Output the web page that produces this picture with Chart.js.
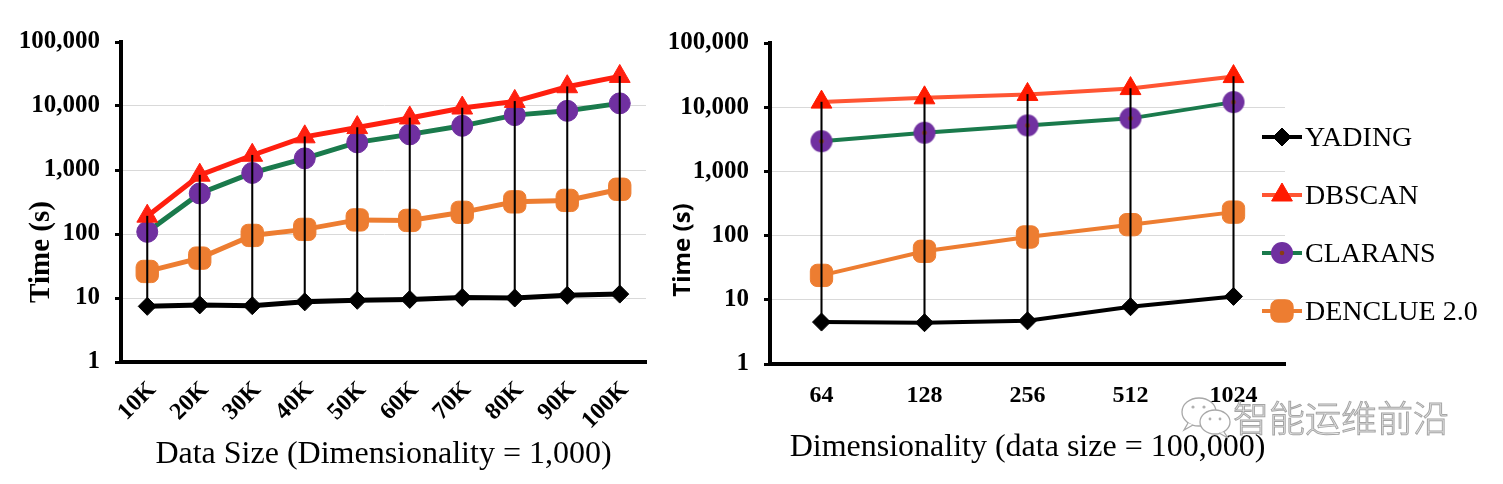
<!DOCTYPE html>
<html lang="en">
<head>
<meta charset="UTF-8">
<title>YADING runtime comparison</title>
<script src="https://cdn.jsdelivr.net/npm/chart.js"></script>
<style>
  body { margin: 0; background: #fff; width: 1503px; height: 484px; overflow: hidden; position: relative; }
  #left { position: absolute; left: 0; top: 0; }
  #right { position: absolute; left: 660px; top: 0; }
  #mark {
    position: absolute; left: 1233px; top: 390px;
    font-family: 'Noto Sans CJK SC', sans-serif; font-size: 36px; font-weight: 300;
    color: #ececec; -webkit-text-stroke: 1px #a5a5a5; white-space: nowrap;
  }
  #wechat { position: absolute; left: 1178px; top: 394px; }
</style>
</head>
<body>
<canvas id="left" width="660" height="484"></canvas>
<canvas id="right" width="843" height="484"></canvas>
<svg id="wechat" width="58" height="46" viewBox="0 0 58 46">
  <g fill="#fff" stroke="#a8a8a8" stroke-width="1.3">
    <ellipse cx="21" cy="18" rx="17" ry="14"/>
    <path d="M10 29 L6 36 L15 31"/>
    <ellipse cx="37" cy="28" rx="15" ry="12"/>
    <path d="M46 38 L50 44 L41 39"/>
  </g>
  <g fill="#b0b0b0">
    <circle cx="15" cy="13" r="1.6"/><circle cx="26" cy="13" r="1.6"/>
    <circle cx="32" cy="25" r="1.4"/><circle cx="42" cy="25" r="1.4"/>
  </g>
</svg>
<div id="mark">智能运维前沿</div>

<script>
  // 공통 데이터
  const seriesNames = ['YADING', 'DBSCAN', 'CLARANS', 'DENCLUE 2.0'];
  const yTickValues = [1, 10, 100, 1000, 10000, 100000];

  // 왼쪽: Data Size (Dimensionality = 1,000)
  const sizeLabels = ['10K', '20K', '30K', '40K', '50K', '60K', '70K', '80K', '90K', '100K'];
  const sizeYading = [7.4, 7.8, 7.6, 8.7, 9.2, 9.5, 10.2, 10, 11, 11.5];
  const sizeDbscan = [190, 830, 1700, 3300, 4600, 6500, 9300, 11800, 20000, 29000];
  const sizeClarans = [108, 430, 900, 1520, 2700, 3600, 4900, 7200, 8400, 11000];
  const sizeDenclue = [26, 42, 95, 118, 166, 163, 218, 318, 335, 500];

  // 오른쪽: Dimensionality (data size = 100,000)
  const dimLabels = ['64', '128', '256', '512', '1024'];
  const dimYading = [4.5, 4.4, 4.7, 7.8, 11.3];
  const dimDbscan = [12000, 14000, 15800, 19500, 30000];
  const dimClarans = [2950, 4000, 5200, 6700, 12000];
  const dimDenclue = [24, 57, 95, 148, 232];

  const serif = "'Liberation Serif', 'Times New Roman', serif";

  // 가운데 갈색 점이 있는 보라색 원 마커 (오른쪽 CLARANS)
  function dotCircle(r, fill, dot) {
    const c = document.createElement('canvas');
    c.width = c.height = r * 2 + 2;
    const g = c.getContext('2d');
    g.fillStyle = fill;
    g.beginPath(); g.arc(r + 1, r + 1, r, 0, Math.PI * 2); g.fill();
    g.fillStyle = dot;
    g.beginPath(); g.arc(r + 1, r + 1, 2.3, 0, Math.PI * 2); g.fill();
    return c;
  }

  // y축 제목 (아래쪽으로 치우쳐 있음)
  const yTitlePlugin = {
    id: 'yTitle',
    afterDraw(chart, args, o) {
      const { ctx, chartArea } = chart;
      ctx.save();
      ctx.translate(chartArea.left + o.dx, chartArea.bottom + o.dy);
      ctx.rotate(-Math.PI / 2);
      ctx.font = o.font;
      ctx.fillStyle = '#000';
      ctx.textAlign = 'center';
      ctx.textBaseline = 'middle';
      ctx.fillText(o.text, 0, 0);
      ctx.restore();
    }
  };

  // 오른쪽 범례 (선 + 마커)
  const sideLegend = {
    id: 'sideLegend',
    afterDraw(chart, args, o) {
      if (!o.show) return;
      const { ctx, chartArea } = chart;
      const sets = chart.data.datasets.filter(d => d.type !== 'bar');
      sets.forEach((ds, i) => {
        const y = chartArea.top + o.top + i * o.step;
        const x0 = chartArea.right + o.left;
        ctx.save();
        ctx.strokeStyle = ds.borderColor;
        ctx.lineWidth = ds.borderWidth;
        ctx.beginPath();
        ctx.moveTo(x0, y);
        ctx.lineTo(x0 + o.lineLen, y);
        ctx.stroke();
        ctx.fillStyle = ds.pointBackgroundColor;
        ctx.strokeStyle = ds.pointBorderColor;
        ctx.lineWidth = ds.pointBorderWidth;
        Chart.helpers.drawPoint(ctx, {
          pointStyle: ds.pointStyle, radius: ds.pointRadius,
          borderWidth: ds.pointBorderWidth, rotation: 0
        }, x0 + o.lineLen / 2, y);
        ctx.fillStyle = '#000';
        ctx.font = o.font;
        ctx.textAlign = 'left';
        ctx.textBaseline = 'middle';
        ctx.fillText(ds.label, x0 + o.lineLen + o.gap, y + 2);
        ctx.restore();
      });
    }
  };

  function hiLo(series, n) {
    const out = [];
    for (let i = 0; i < n; i++) {
      const vals = series.map(s => s[i]);
      out.push([Math.min(...vals), Math.max(...vals)]);
    }
    return out;
  }

  function buildChart(id, labels, series, st) {
    const datasets = series.map((data, i) => ({
      type: 'line',
      label: seriesNames[i],
      data: data,
      borderColor: st.lineColors[i],
      borderWidth: st.lineWidth,
      pointStyle: st.pointStyles[i],
      pointRadius: st.pointRadius[i],
      pointBackgroundColor: st.pointColors[i],
      pointBorderColor: st.pointColors[i],
      pointBorderWidth: 1,
      order: 1
    }));
    datasets.push({
      type: 'bar',
      label: 'hi-lo',
      data: hiLo(series, labels.length),
      backgroundColor: '#000',
      barThickness: 1.4,
      order: 0
    });

    return new Chart(document.getElementById(id), {
      type: 'line',
      data: { labels: labels, datasets: datasets },
      options: {
        responsive: false,
        animation: false,
        devicePixelRatio: 1,
        layout: { padding: { left: 0, right: st.padRight, top: st.padTop, bottom: 0 } },
        scales: {
          x: {
            type: 'category',
            offset: true,
            afterFit: s => { s.height = st.xHeight; },
            grid: { display: true, drawTicks: false, color: 'rgba(0,0,0,0)' },
            border: { display: true, color: '#000', width: 4 },
            ticks: {
              color: '#000', padding: st.xTickPad, labelOffset: st.xLabelOffset, autoSkip: false,
              minRotation: st.xRotation, maxRotation: st.xRotation,
              font: { family: serif, size: 24, weight: 'bold' }
            },
            title: {
              display: true, text: st.xTitle, color: '#000',
              padding: { top: 0, bottom: st.xTitlePad },
              font: { family: serif, size: 32 }
            }
          },
          y: {
            type: 'logarithmic',
            min: 1, max: 100000,
            afterFit: s => { s.width = st.yWidth; },
            afterBuildTicks: s => { s.ticks = yTickValues.map(v => ({ value: v })); },
            grid: {
              color: c => (c.tick && (c.tick.value === 1 || c.tick.value === 100000)) ? 'rgba(0,0,0,0)' : '#d9d9d9',
              lineWidth: 1,
              tickColor: '#000', tickWidth: 3, tickLength: 6
            },
            border: { display: true, color: '#000', width: 4 },
            ticks: {
              color: '#000', padding: 15, autoSkip: false,
              callback: v => Number(v).toLocaleString('en-US'),
              font: { family: serif, size: 25, weight: 'bold' }
            }
          }
        },
        plugins: {
          legend: { display: false },
          tooltip: { enabled: false },
          yTitle: st.yTitle,
          sideLegend: st.legend
        }
      },
      plugins: [yTitlePlugin, sideLegend]
    });
  }

  buildChart('left', sizeLabels, [sizeYading, sizeDbscan, sizeClarans, sizeDenclue], {
    lineColors: ['#000000', '#ff1f0f', '#1a7a4c', '#ed7d31'],
    pointColors: ['#000000', '#ff1f0f', '#7030a0', '#ed7d31'],
    pointStyles: ['rectRot', 'triangle', 'circle', 'rectRounded'],
    pointRadius: [9, 12, 10.5, 13],
    lineWidth: 5,
    padRight: 8, padTop: 42,
    xHeight: 122, yWidth: 121,
    xTickPad: 14, xLabelOffset: 5, xRotation: 45, xTitlePad: 10,
    xTitle: 'Data Size (Dimensionality = 1,000)',
    yTitle: { text: 'Time (s)', font: 'bold 29px ' + serif, dx: -79, dy: -110 },
    legend: { show: false }
  });

  buildChart('right', dimLabels, [dimYading, dimDbscan, dimClarans, dimDenclue], {
    lineColors: ['#000000', '#ff5533', '#1a7a4c', '#ed7d31'],
    pointColors: ['#000000', '#ff1a00', '#7030a0', '#ed7d31'],
    pointStyles: ['rectRot', 'triangle', dotCircle(11, '#7030a0', '#8a3c12'), 'rectRounded'],
    pointRadius: [9, 12, 11, 13],
    lineWidth: 4,
    padRight: 218, padTop: 43,
    xHeight: 120, yWidth: 110,
    xTickPad: 17, xLabelOffset: 0, xRotation: 0, xTitlePad: 17,
    xTitle: 'Dimensionality (data size = 100,000)',
    yTitle: { text: 'Time (s)', font: "bold 24px 'Open Sans', sans-serif", dx: -87, dy: -114 },
    legend: { show: true, top: 94, step: 58, left: -23, lineLen: 40, gap: 3, font: '28px ' + serif }
  });
</script>
</body>
</html>
